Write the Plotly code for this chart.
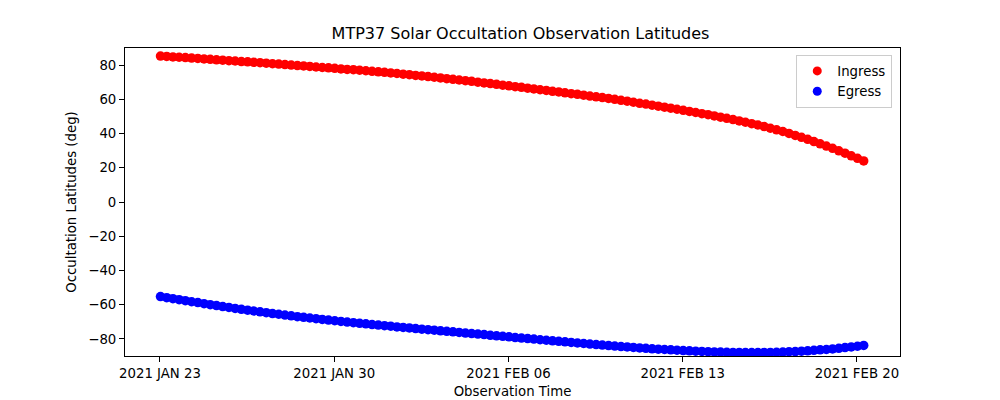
import pandas as pd
import plotly.graph_objects as go

# Observation times: one sample every 6 hours starting 2021-01-23
times = pd.date_range("2021-01-23 00:30", periods=114, freq="6h")

ingress_lat = [
    85.3, 85.1, 84.8, 84.6, 84.4, 84.1, 83.9, 83.6,
    83.4, 83.1, 82.9, 82.6, 82.4, 82.1, 81.9, 81.6,
    81.4, 81.1, 80.8, 80.6, 80.3, 80.0, 79.7, 79.5,
    79.2, 78.9, 78.6, 78.4, 78.1, 77.8, 77.5, 77.3,
    77.0, 76.7, 76.4, 76.1, 75.8, 75.4, 75.1, 74.7,
    74.4, 74.0, 73.7, 73.3, 72.9, 72.5, 72.1, 71.7,
    71.3, 70.9, 70.5, 70.0, 69.6, 69.2, 68.8, 68.3,
    67.9, 67.4, 67.0, 66.5, 66.1, 65.6, 65.2, 64.7,
    64.3, 63.8, 63.3, 62.9, 62.4, 61.9, 61.5, 61.0,
    60.5, 60.0, 59.4, 58.9, 58.3, 57.7, 57.2, 56.6,
    56.0, 55.4, 54.8, 54.2, 53.6, 52.9, 52.3, 51.6,
    51.0, 50.3, 49.6, 48.9, 48.2, 47.4, 46.6, 45.8,
    45.0, 44.1, 43.1, 42.2, 41.2, 40.1, 38.9, 37.8,
    36.6, 35.3, 34.0, 32.7, 31.4, 29.9, 28.5, 27.0,
    25.5, 24.0,
]

egress_lat = [
    -55.3, -55.9, -56.5, -57.1, -57.7, -58.3, -58.8, -59.4,
    -60.0, -60.5, -61.1, -61.6, -62.2, -62.7, -63.2, -63.7,
    -64.2, -64.7, -65.2, -65.6, -66.1, -66.5, -67.0, -67.4,
    -67.8, -68.2, -68.6, -69.0, -69.4, -69.8, -70.2, -70.5,
    -70.9, -71.2, -71.6, -71.9, -72.3, -72.6, -73.0, -73.3,
    -73.6, -74.0, -74.3, -74.6, -74.9, -75.3, -75.6, -75.9,
    -76.2, -76.6, -76.9, -77.2, -77.5, -77.9, -78.2, -78.5,
    -78.8, -79.2, -79.5, -79.8, -80.1, -80.5, -80.8, -81.1,
    -81.4, -81.7, -82.1, -82.4, -82.7, -83.0, -83.3, -83.6,
    -83.9, -84.2, -84.5, -84.7, -85.0, -85.3, -85.5, -85.8,
    -86.0, -86.2, -86.4, -86.6, -86.8, -87.0, -87.2, -87.3,
    -87.5, -87.6, -87.7, -87.8, -87.9, -87.9, -88.0, -88.0,
    -88.0, -87.9, -87.9, -87.8, -87.7, -87.5, -87.4, -87.2,
    -87.0, -86.7, -86.4, -86.2, -85.9, -85.5, -85.1, -84.7,
    -84.3, -83.8,
]

x_tick_dates = ["2021-01-23", "2021-01-30", "2021-02-06", "2021-02-13", "2021-02-20"]
x_tick_labels = ["2021 JAN 23", "2021 JAN 30", "2021 FEB 06", "2021 FEB 13", "2021 FEB 20"]
y_tick_vals = [-80, -60, -40, -20, 0, 20, 40, 60, 80]
y_tick_labels = ["\u221280", "\u221260", "\u221240", "\u221220", "0", "20", "40", "60", "80"]

font = "DejaVu Sans"

fig = go.Figure()
fig.add_trace(go.Scatter(
    x=times, y=ingress_lat, mode="markers", name="Ingress", showlegend=False,
    marker=dict(color="red", size=9.5, line=dict(width=0)),
))
fig.add_trace(go.Scatter(
    x=times, y=egress_lat, mode="markers", name="Egress", showlegend=False,
    marker=dict(color="blue", size=9.5, line=dict(width=0)),
))
# legend entries with matplotlib-sized legend markers
fig.add_trace(go.Scatter(
    x=[None], y=[None], mode="markers", name="Ingress",
    marker=dict(color="red", size=9, line=dict(width=0)),
))
fig.add_trace(go.Scatter(
    x=[None], y=[None], mode="markers", name="Egress",
    marker=dict(color="blue", size=9, line=dict(width=0)),
))

axis_common = dict(
    showgrid=False, zeroline=False, showline=True, linecolor="black",
    linewidth=1, mirror=True, ticks="outside", ticklen=5, tickwidth=1,
    tickcolor="black", tickfont=dict(family=font, size=13.3, color="black"),
)

fig.update_layout(
    width=1000, height=400,
    margin=dict(l=117, r=108, t=40, b=52),
    paper_bgcolor="white", plot_bgcolor="white",
    font=dict(family=font, color="black"),
    title=dict(text="MTP37 Solar Occultation Observation Latitudes",
               x=0.5125, xanchor="center", y=0.9375, yanchor="middle",
               font=dict(family=font, size=16, color="black")),
    xaxis=dict(
        **axis_common,
        range=["2021-01-21 14:17", "2021-02-21 17:30"],
        tickvals=x_tick_dates, ticktext=x_tick_labels,
        title=dict(text="Observation Time", font=dict(family=font, size=13.3), standoff=6),
    ),
    yaxis=dict(
        **axis_common,
        range=[-90, 90],
        tickvals=y_tick_vals, ticktext=y_tick_labels,
        title=dict(text="Occultation Latitudes (deg)", font=dict(family=font, size=13.3), standoff=8),
    ),
    legend=dict(
        x=0.99, y=0.978, xanchor="right", yanchor="top",
        bgcolor="rgba(255,255,255,0.8)", bordercolor="#cccccc", borderwidth=1,
        font=dict(family=font, size=13.3, color="black"),
        itemsizing="trace", tracegroupgap=0,
    ),
    showlegend=True,
)

fig.write_html("out.html")
